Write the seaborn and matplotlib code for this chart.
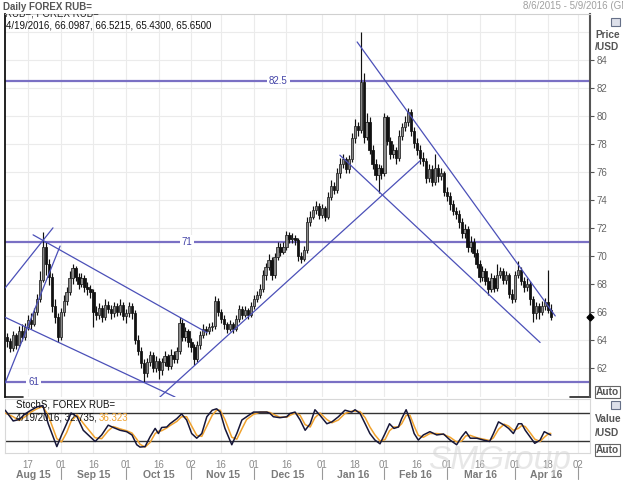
import numpy as np
import pandas as pd
import seaborn as sns
import matplotlib
matplotlib.use("Agg")
from matplotlib import pyplot as plt
from matplotlib.patches import Rectangle

# daily USD/RUB candles, 6 Aug 2015 .. 19 Apr 2016 (one value per trading day)
close = [63.9, 63.4, 64.3, 63.6, 64.6, 64.2, 64.9, 65.4, 65.1, 66.0,
         66.9, 68.3, 70.6, 69.4, 68.5, 66.4, 65.6, 64.2, 66.0, 66.8,
         67.4, 68.4, 69.1, 68.5, 68.0, 68.4, 67.8, 67.6, 67.4, 66.0,
         65.8, 66.3, 65.6, 66.5, 66.2, 65.9, 66.4, 66.0, 66.5, 65.7,
         65.9, 66.4, 65.9, 64.0, 63.2, 62.3, 61.6, 62.4, 62.9, 62.0,
         62.5, 61.8, 62.4, 62.8, 62.1, 62.9, 62.6, 63.2, 65.2, 64.2,
         64.6, 63.8, 63.5, 62.6, 63.6, 64.3, 64.8, 64.6, 64.9, 65.0,
         66.8, 66.0, 65.5, 65.1, 64.8, 65.1, 64.8, 65.5, 66.2, 65.8,
         66.1, 65.8, 66.4, 66.9, 67.2, 67.6, 68.6, 69.2, 69.7, 68.6,
         69.9, 70.6, 70.3, 70.6, 71.5, 71.2, 71.3, 71.1, 70.0, 69.8,
         70.4, 72.4, 72.8, 73.3, 73.6, 72.9, 73.4, 72.8, 74.2, 75.0,
         74.7, 75.9, 76.6, 76.9, 76.2, 76.9, 78.4, 79.3, 79.0, 82.4,
         78.5, 79.6, 77.6, 76.6, 75.8, 76.3, 75.9, 79.9, 78.2, 77.3,
         77.6, 77.0, 78.6, 79.2, 79.6, 80.3, 78.9, 78.1, 77.6, 77.0,
         76.8, 75.6, 76.2, 75.3, 76.3, 75.7, 75.9, 74.6, 74.3, 73.7,
         73.2, 73.0, 72.4, 71.6, 71.9, 70.6, 71.0, 70.2, 69.4, 68.5,
         68.9, 68.2, 67.6, 68.4, 67.7, 68.6, 68.9, 68.3, 68.6, 67.3,
         66.9, 68.6, 69.0, 68.2, 67.8, 68.0, 66.9, 65.9, 66.4, 66.0,
         66.4, 66.7, 66.10, 65.65]
high = [64.5, 64.1, 64.6, 64.5, 65.0, 65.1, 65.2, 65.8, 65.9, 66.3,
        67.3, 68.9, 71.7, 71.0, 69.8, 68.8, 66.9, 65.9, 66.3, 67.2,
        67.8, 68.9, 69.4, 69.3, 68.8, 68.8, 68.6, 68.1, 67.9, 67.6,
        66.4, 66.6, 66.5, 66.9, 66.8, 66.5, 66.7, 66.6, 66.9, 66.7,
        66.2, 66.7, 66.6, 66.1, 64.3, 63.5, 62.6, 62.7, 63.2, 63.1,
        62.8, 62.7, 62.7, 63.2, 63.0, 63.3, 63.2, 63.5, 65.6, 65.5,
        64.9, 64.8, 64.1, 63.7, 63.9, 64.6, 65.1, 65.0, 65.2, 65.3,
        67.1, 67.0, 66.2, 65.8, 65.3, 65.4, 65.3, 65.8, 66.5, 66.4,
        66.4, 66.3, 66.7, 67.2, 67.5, 68.0, 69.0, 69.5, 70.1, 69.9,
        70.2, 71.0, 70.9, 71.0, 71.8, 71.7, 71.6, 71.5, 71.3, 70.3,
        70.7, 72.8, 73.2, 73.6, 73.9, 73.8, 73.7, 73.6, 74.6, 75.4,
        75.3, 76.3, 77.0, 77.3, 77.1, 77.2, 78.8, 79.8, 79.6, 86.0,
        83.1, 80.2, 79.9, 77.9, 76.9, 76.6, 76.5, 80.2, 80.1, 78.5,
        78.0, 77.8, 79.0, 79.5, 80.0, 80.6, 80.5, 79.2, 78.4, 77.9,
        77.4, 77.0, 76.6, 76.5, 77.3, 76.6, 76.3, 76.1, 74.9, 74.6,
        74.0, 73.5, 73.3, 72.7, 72.3, 72.1, 71.4, 71.3, 70.5, 69.7,
        69.3, 69.1, 68.5, 68.8, 68.6, 69.4, 69.2, 69.1, 68.9, 68.8,
        67.6, 68.9, 69.6, 69.2, 68.5, 68.4, 68.2, 67.1, 66.7, 66.6,
        66.8, 67.0, 69.0, 66.5215]
low = [63.5, 63.1, 63.2, 63.3, 63.5, 63.9, 64.0, 64.7, 64.8, 65.0,
       65.8, 66.7, 68.1, 68.6, 67.9, 66.0, 65.2, 63.8, 64.0, 65.7,
       66.5, 67.2, 68.0, 68.2, 67.6, 67.8, 67.4, 67.2, 67.0, 64.9,
       65.4, 65.5, 65.3, 65.4, 65.9, 65.5, 65.6, 65.7, 65.8, 65.4,
       65.2, 65.6, 65.5, 63.7, 62.9, 62.0, 61.0, 61.3, 62.1, 61.7,
       61.7, 61.2, 61.5, 62.1, 61.8, 61.9, 62.3, 62.3, 63.0, 63.9,
       63.9, 63.5, 63.1, 62.2, 62.4, 63.3, 64.1, 64.3, 64.4, 64.6,
       64.8, 65.7, 65.2, 64.8, 64.5, 64.6, 64.5, 64.6, 65.3, 65.5,
       65.6, 65.5, 65.6, 66.2, 66.7, 67.0, 67.4, 68.3, 69.0, 68.3,
       68.4, 69.7, 70.0, 70.1, 70.4, 70.9, 70.9, 70.8, 69.6, 69.5,
       69.6, 70.2, 72.1, 72.6, 73.0, 72.6, 72.7, 72.5, 72.6, 74.0,
       74.4, 74.5, 75.6, 76.3, 75.9, 75.9, 76.7, 78.1, 78.6, 78.8,
       78.1, 78.3, 77.3, 76.2, 75.4, 74.5, 75.5, 75.7, 77.9, 76.9,
       77.0, 76.6, 76.8, 78.3, 78.9, 79.3, 78.6, 77.7, 77.2, 76.6,
       76.4, 75.2, 75.3, 75.0, 75.1, 75.3, 75.4, 74.3, 73.9, 73.3,
       72.9, 72.6, 72.0, 71.3, 71.3, 70.3, 70.3, 69.9, 69.1, 68.1,
       68.2, 67.9, 67.2, 67.4, 67.4, 67.5, 68.4, 68.0, 68.0, 67.0,
       66.6, 66.7, 68.4, 67.9, 67.4, 67.5, 66.5, 65.3, 65.5, 65.5,
       65.8, 66.1, 65.9, 65.43]
first_open = 64.2
last_open = 66.0987

# slow stochastic (trading day no., %K, %D)
stoch_day = [-0.7, 2, 4, 6, 8, 10, 12, 13.8, 16.7, 18.3, 20, 21.5, 23.5, 25.6, 29.6,
             31.8, 34, 35.7, 38, 40.2, 42, 43.6, 44.7, 46.4, 48.1, 49.8, 50.9, 52,
             53.7, 54.8, 57.1, 58.7, 60.4, 62.1, 63.8, 65.5, 67.2, 69, 70.5, 71.7,
             73.3, 75.6, 77.3, 79, 80.6, 82.9, 85.1, 87.4, 88.5, 89.6, 91.8, 94.1,
             95.2, 96.9, 98.6, 100.3, 102, 103.6, 105.3, 107.6, 109.3, 111.5, 113.7,
             116, 117.1, 118.8, 120.5, 122.1, 123.8, 125.5, 127.2, 128.7, 130.2,
             131.7, 132.8, 134.3, 135.6, 137, 138.4, 140.1, 142.3, 144.6, 146.9,
             149.1, 151.3, 153, 154.4, 155.9, 158.1, 160.3, 162.4, 163.7, 165.4,
             167.3, 168.8, 170.4, 172.1, 173.2, 174.4, 176, 177.6, 179.4, 180.8,
             182.3, 183]
stoch_k = [86, 63, 66, 78, 86, 93, 96, 57, 8, 33, 57, 80, 72, 43, 19,
           33, 54, 49, 43, 40, 33, 12, 7, 8, 29, 47, 36, 49,
           50, 57, 68, 78, 65, 36, 26, 36, 72, 86, 89, 82,
           47, 12, 36, 65, 72, 82, 82, 82, 79, 72, 70, 72,
           79, 82, 65, 43, 57, 87, 75, 57, 61, 72, 86,
           82, 87, 79, 57, 36, 22, 14, 36, 57, 47,
           50, 68, 87, 65, 36, 22, 33, 40, 33, 35,
           22, 12, 29, 40, 26, 26, 22, 19, 36, 61,
           54, 47, 36, 57, 57, 43, 29, 15, 22, 40,
           35, 32.735]
stoch_d = [80, 72, 64, 72, 82, 89, 94, 75, 25, 18, 38, 62, 76, 58, 27,
           25, 42, 51, 46, 42, 37, 24, 13, 7, 17, 36, 41, 42,
           48, 53, 62, 72, 72, 52, 32, 30, 52, 75, 86, 86,
           66, 28, 24, 46, 66, 77, 82, 82, 81, 77, 71, 71,
           75, 80, 75, 55, 50, 70, 80, 66, 59, 65, 79,
           84, 84, 83, 70, 50, 33, 20, 23, 42, 50,
           50, 57, 75, 75, 52, 32, 28, 36, 36, 34,
           28, 18, 20, 31, 32, 27, 24, 21, 27, 45,
           56, 52, 43, 47, 53, 51, 38, 24, 19, 28,
           36, 36.323]

# support / resistance levels and drawn trend lines (trading day no., price)
levels = [82.5, 71, 61]
level_text = ["82.5", "71", "61"]
level_label_day = [91.2, 60.5, 9.0]
trend_lines = [
    ((-0.7, 67.7), (15.4, 72.0)),
    ((-0.7, 60.9), (17.8, 70.7)),
    ((8.7, 71.5), (67.3, 64.5)),
    ((-0.7, 65.6), (56.5, 59.9)),
    ((51.4, 59.9), (139.0, 76.8)),
    ((112.0, 77.2), (179.4, 63.8)),
    ((117.8, 85.3), (184.5, 65.7)),
]

tick_dates = ["2015-08-17", "2015-09-01", "2015-09-16", "2015-10-01", "2015-10-16",
              "2015-11-02", "2015-11-16", "2015-12-01", "2015-12-16", "2016-01-01",
              "2016-01-18", "2016-02-01", "2016-02-16", "2016-03-01", "2016-03-16",
              "2016-04-01", "2016-04-18", "2016-05-02"]
tick_text = ["17", "01", "16", "01", "16", "02", "16", "01", "16", "01",
             "18", "01", "16", "01", "16", "01", "18", "02"]
month_starts = ["2015-09-01", "2015-10-01", "2015-11-02", "2015-12-01", "2016-01-01",
                "2016-02-01", "2016-03-01", "2016-04-01", "2016-05-02"]
month_text = ["Aug 15", "Sep 15", "Oct 15", "Nov 15", "Dec 15",
              "Jan 16", "Feb 16", "Mar 16", "Apr 16"]

dates = pd.bdate_range("2015-08-06", periods=200)
n = len(close)
df = pd.DataFrame({"day": np.arange(n), "close": close, "high": high, "low": low})
df["open"] = [first_open] + close[:-1]
df.loc[n - 1, "open"] = last_open
st = pd.DataFrame({"day": stoch_day, "k": stoch_k, "d": stoch_d})

sns.set_style("white")
plt.rcParams["font.family"] = ["Liberation Sans", "DejaVu Sans"]

W, H = 623, 480
fig = plt.figure(figsize=(W / 100, H / 100), dpi=100)


def frame(x0, y0, x1, y1):
    return [x0 / W, 1 - y1 / H, (x1 - x0) / W, (y1 - y0) / H]


ax = fig.add_axes(frame(5, 14, 590, 397))
ax2 = fig.add_axes(frame(5, 399, 590, 453), sharex=ax)

pos = [dates.get_loc(pd.Timestamp(d)) for d in tick_dates]
mpos = [dates.get_loc(pd.Timestamp(d)) for d in month_starts]
xmin, xmax = -0.75, 196.2

grid_c = "#ebebeb"
for a in (ax, ax2):
    for p in pos:
        a.axvline(p, color=grid_c, lw=0.8, zorder=0)
for lv in range(62, 88, 2):
    ax.axhline(lv, color=grid_c, lw=0.8, zorder=0)

# candles
up = df["close"] >= df["open"]
body_lo = df[["open", "close"]].min(axis=1)
body_h = (df["close"] - df["open"]).abs().clip(lower=0.06)
ax.vlines(df["day"], df["low"], df["high"], color="#111111", lw=0.85, zorder=3)
ax.bar(df["day"][up], body_h[up], bottom=body_lo[up], width=0.78,
       color="#8a8a8a", edgecolor="#222222", linewidth=0.55, zorder=4)
ax.bar(df["day"][~up], body_h[~up], bottom=body_lo[~up], width=0.78,
       color="#111111", edgecolor="#111111", linewidth=0.55, zorder=4)

# levels and trend lines
lvl_c = "#7a70c4"
for lv, txt, d in zip(levels, level_text, level_label_day):
    ax.axhline(lv, color=lvl_c, lw=1.6, zorder=2)
    ax.text(d, lv, txt, color="#4545a8", fontsize=7, ha="center", va="center", zorder=5,
            bbox=dict(facecolor="white", edgecolor="none", pad=1.5))
for (x0, y0), (x1, y1) in trend_lines:
    ax.plot([x0, x1], [y0, y1], color="#4b50b8", lw=0.9, zorder=5)

ax.set_xlim(xmin, xmax)
ax.set_ylim(59.9, 87.3)
ax.yaxis.tick_right()
ax.set_yticks(range(62, 86, 2))
ax.tick_params(axis="y", right=True, length=3, width=0.8, color="#555555",
               labelsize=7, labelcolor="#666666", pad=1.5)
ax.tick_params(axis="x", bottom=False, labelbottom=False)
ax.spines["left"].set_color("#111111")
ax.spines["left"].set_linewidth(1.3)
ax.spines["right"].set_color("#555555")
ax.spines["right"].set_linewidth(1.5)
ax.spines["top"].set_color("#d0d0d0")
ax.spines["top"].set_linewidth(0.8)
ax.spines["bottom"].set_visible(False)
# short dark pieces of the price panel's bottom frame
for seg in ([0, 18 / 585], [565 / 585, 1]):
    ax.plot(seg, [0, 0], transform=ax.transAxes, color="#222222", lw=1.2, clip_on=False)
ax.plot([xmax], [close[-1]], marker="D", ms=3.5, color="black", clip_on=False, zorder=6)
ax.text(0.0, 1.0, "RUB=, FOREX RUB=", transform=ax.transAxes, fontsize=7,
        va="center", ha="left", clip_on=True, color="#222222")
ax.text(0.002, 0.971, "4/19/2016, 66.0987, 66.5215, 65.4300, 65.6500", transform=ax.transAxes,
        fontsize=7, va="center", ha="left", color="#111111")

# stochastic panel
sns.lineplot(data=st, x="day", y="d", ax=ax2, color="#f0a22e", lw=1.1, zorder=3)
sns.lineplot(data=st, x="day", y="k", ax=ax2, color="#161638", lw=1.1, zorder=4)
for lv in (80, 20):
    ax2.axhline(lv, color="#333333", lw=1.0, zorder=2)
ax2.set_ylim(-5.7, 110)
ax2.set_yticks([])
ax2.set_xlabel("")
ax2.set_ylabel("")
for s in ax2.spines.values():
    s.set_color("#d8d8d8")
    s.set_linewidth(0.8)
ax2.set_xticks(pos)
ax2.set_xticklabels(tick_text)
ax2.tick_params(axis="x", length=0, labelsize=7, labelcolor="#8a8a8a", pad=5)
ax2.text(11 / 585, 0.89, "StochS, FOREX RUB=", transform=ax2.transAxes, fontsize=7,
         va="center", color="#111111")
ax2.text(11 / 585, 0.65, "4/19/2016, 32.735, ", transform=ax2.transAxes, fontsize=7,
         va="center", color="#111111")
ax2.text(94 / 585, 0.65, "36.323", transform=ax2.transAxes, fontsize=7,
         va="center", color="#f0a22e")

xt = ax2.get_xaxis_transform()
edges = [xmin] + mpos
for i, txt in enumerate(month_text):
    ax2.text((edges[i] + edges[i + 1]) / 2, -0.41, txt, transform=xt, fontsize=7.5,
             fontweight="bold", color="#7a7a7a", ha="center", va="center")
for m in mpos:
    ax2.plot([m, m], [-0.28, -0.48], transform=xt, color="#999999", lw=0.8, clip_on=False)

# header and right-hand labels
fig.text(3 / W, 1 - 7 / H, "Daily FOREX RUB=", fontsize=7, fontweight="bold",
         color="#555555", va="center")
fig.text(523 / W, 1 - 6 / H, "8/6/2015 - 5/9/2016 (GMT)", fontsize=7,
         color="#a0a0a0", va="center")
for y, txt in [(35, "Price"), (47, "/USD"), (419, "Value"), (433, "/USD")]:
    fig.text(595 / W, 1 - y / H, txt, fontsize=7.3, fontweight="bold",
             color="#555555", va="center")
for y in (392, 450):
    fig.text(596 / W, 1 - y / H, "Auto", fontsize=7.3, fontweight="bold", color="#555555",
             va="center", bbox=dict(facecolor="white", edgecolor="#666666", pad=0.8, lw=0.8))
for y in (22, 405):
    fig.patches.append(Rectangle((611 / W, 1 - (y + 4) / H), 9 / W, 8 / H,
                                 transform=fig.transFigure, facecolor="#dde0ea",
                                 edgecolor="#667088", lw=0.8))
fig.text(500 / W, 1 - 460 / H, "SMGroup", fontsize=24, style="italic",
         color="#d4d4d4", alpha=0.55, ha="center", va="center")

fig.savefig("out.png", dpi=100)
